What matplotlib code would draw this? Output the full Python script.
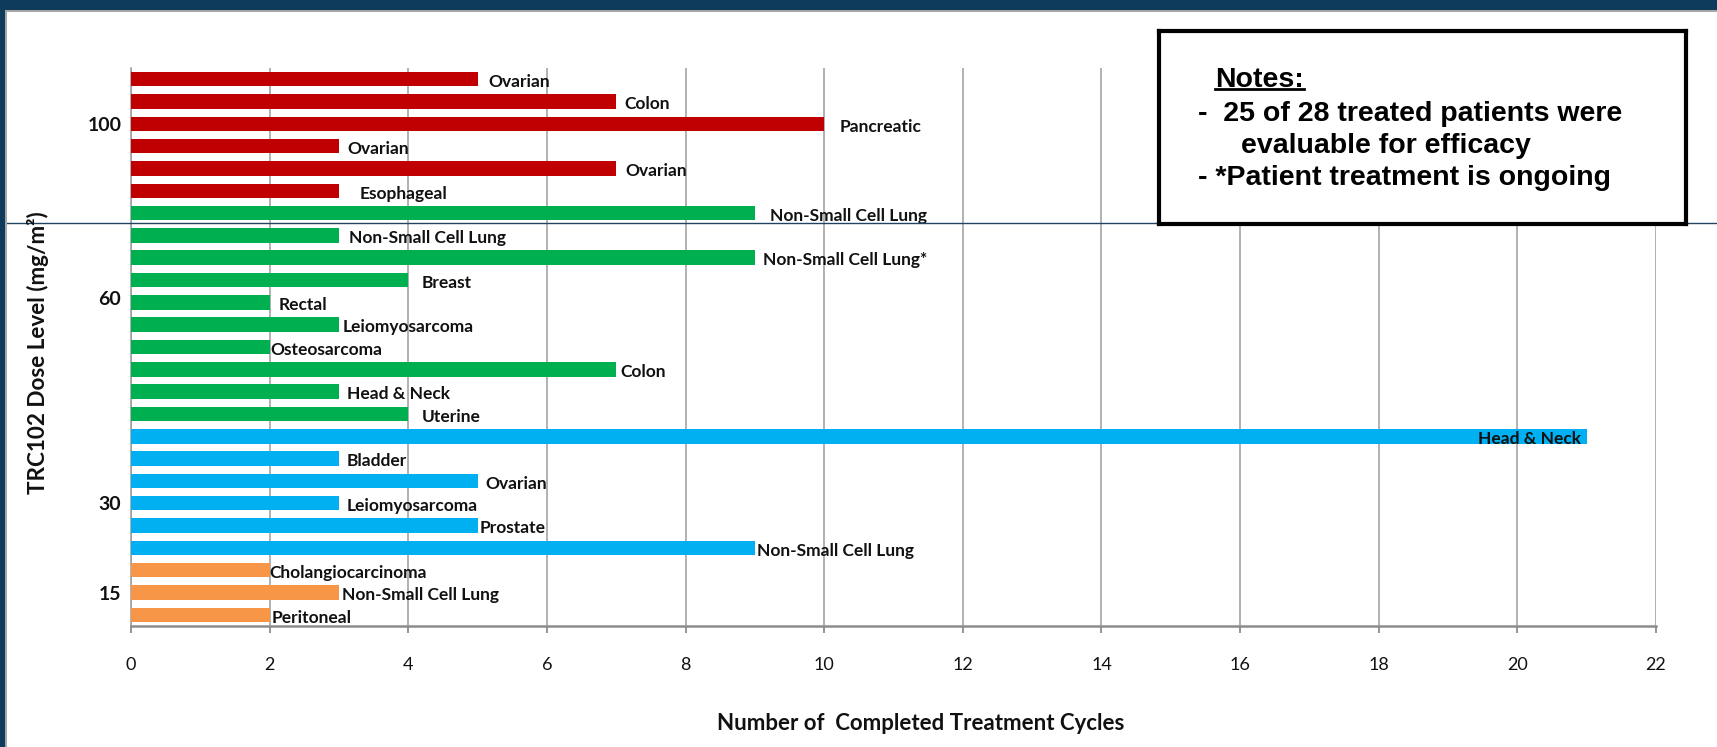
from matplotlib import pyplot as plt
from matplotlib.patches import Rectangle
from matplotlib.lines import Line2D
import numpy as np

# one bar per evaluable patient, listed top to bottom
tumor_type = ['Ovarian', 'Colon', 'Pancreatic', 'Ovarian', 'Ovarian', 'Esophageal',
              'Non-Small Cell Lung', 'Non-Small Cell Lung', 'Non-Small Cell Lung*', 'Breast',
              'Rectal', 'Leiomyosarcoma', 'Osteosarcoma', 'Colon', 'Head & Neck', 'Uterine',
              'Head & Neck', 'Bladder', 'Ovarian', 'Leiomyosarcoma', 'Prostate', 'Non-Small Cell Lung',
              'Cholangiocarcinoma', 'Non-Small Cell Lung', 'Peritoneal']
cycles = [5, 7, 10, 3, 7, 3,
          9, 3, 9, 4, 2, 3, 2, 7, 3, 4,
          21, 3, 5, 3, 5, 9,
          2, 3, 2]
dose_level = [100, 100, 100, 100, 100, 100,
              60, 60, 60, 60, 60, 60, 60, 60, 60, 60,
              30, 30, 30, 30, 30, 30,
              15, 15, 15]
dose_labels = ['100', '60', '30', '15']

notes = ['-  25 of 28 treated patients were',
         'evaluable for efficacy',
         '- *Patient treatment is ongoing']

dose_color = {100: '#C00000', 60: '#00B050', 30: '#00B0F0', 15: '#F79646'}

# horizontal shift of each data label from the bar end (pixels)
label_dx = [11, 8, 15, 8, 9, 21, 15, 10, 8, 13, 9, 4, 1, 4, 8, 13,
            -6, 8, 8, 8, 2, 2, 0, 3, 2]

W, H = 1717, 747
navy = '#0E3A5B'
grid_gray = '#9C9C9C'

plt.rcParams['font.family'] = ['Lato', 'DejaVu Sans']

fig = plt.figure(figsize=(W / 100, H / 100), dpi=100)
fig.patch.set_facecolor('white')

# slide frame: navy band on top and left with a thin grey edge
fig.patches.append(Rectangle((0, 1 - 10 / H), 1, 10 / H, transform=fig.transFigure,
                             facecolor=navy, edgecolor='none', zorder=5))
fig.patches.append(Rectangle((0, 1 - 12 / H), 1, 2 / H, transform=fig.transFigure,
                             facecolor='#A6A6A6', edgecolor='none', zorder=4))
fig.patches.append(Rectangle((0, 0), 5 / W, 1, transform=fig.transFigure,
                             facecolor=navy, edgecolor='none', zorder=5))
fig.patches.append(Rectangle((5 / W, 0), 1.5 / W, 1 - 10 / H, transform=fig.transFigure,
                             facecolor='#A6A6A6', edgecolor='none', zorder=4))

ax = fig.add_axes([131 / W, 121 / H, (1656 - 131) / W, (626 - 68) / H])

ypos = np.arange(len(cycles))
colors = [dose_color[d] for d in dose_level]
ax.barh(ypos, cycles, height=0.65, color=colors, zorder=3)

ax.set_xlim(0, 22)
ax.set_ylim(len(cycles) - 0.5, -0.5)
ax.set_xticks(np.arange(0, 23, 2))
ax.set_yticks([2, 9.8, 19, 23])
ax.set_yticklabels(dose_labels, fontsize=14, fontweight='bold')

ax.grid(axis='x', color=grid_gray, linewidth=1.1)
ax.set_axisbelow(True)
for side in ['top', 'right']:
    ax.spines[side].set_visible(False)
ax.spines['left'].set_color(grid_gray)
ax.spines['left'].set_linewidth(1.1)
ax.spines['bottom'].set_color('#8C8C8C')
ax.spines['bottom'].set_linewidth(1.8)

ax.tick_params(axis='x', length=5, width=1.3, color='#8C8C8C', pad=17,
               labelsize=13, labelcolor='#111111')
ax.tick_params(axis='y', length=0, pad=7, labelcolor='#111111')

# tumour type next to each bar
for i in range(len(cycles)):
    dx = label_dx[i] * 0.72
    ax.annotate(tumor_type[i], xy=(cycles[i], ypos[i]), xytext=(dx, -2),
                textcoords='offset points', ha='left' if dx >= 0 else 'right',
                va='center', fontsize=12.5, fontweight='bold', color='#111111', zorder=6)

fig.text(38 / W, 1 - 353 / H, 'TRC102 Dose Level (mg/m²)', rotation=90,
         ha='center', va='center', fontsize=16.2, fontweight='bold', color='#111111')
fig.text(921 / W, 24 / H, 'Number of  Completed Treatment Cycles',
         ha='center', va='center', fontsize=16, fontweight='bold', color='#111111')

# thin rule across the slide
fig.lines.append(Line2D([5 / W, 1], [1 - 223 / H, 1 - 223 / H], transform=fig.transFigure,
                        color='#1F4464', linewidth=1.0, zorder=1))

# notes box
box = fig.add_axes([1159 / W, 1 - 224 / H, 527 / W, 193 / H], zorder=2)
box.set_xticks([])
box.set_yticks([])
box.set_facecolor('white')
for s in box.spines.values():
    s.set_linewidth(3)
    s.set_color('black')

note_font = dict(family='Liberation Sans', fontweight='bold', fontsize=20.5, color='black', va='baseline')
title = fig.text(1215 / W, 1 - 87 / H, 'Notes:', zorder=10, **note_font)
fig.text(1198 / W, 1 - 121 / H, notes[0], zorder=10, **note_font)
fig.text(1241 / W, 1 - 153 / H, notes[1], zorder=10, **note_font)
fig.text(1198 / W, 1 - 185 / H, notes[2], zorder=10, **note_font)

# underline under "Notes:"
fig.canvas.draw()
bb = title.get_window_extent(fig.canvas.get_renderer())
fig.lines.append(Line2D([bb.x0 / W, bb.x1 / W], [1 - 89 / H, 1 - 89 / H], transform=fig.transFigure,
                        color='black', linewidth=2, zorder=10))

plt.savefig('out.png', dpi=100)
